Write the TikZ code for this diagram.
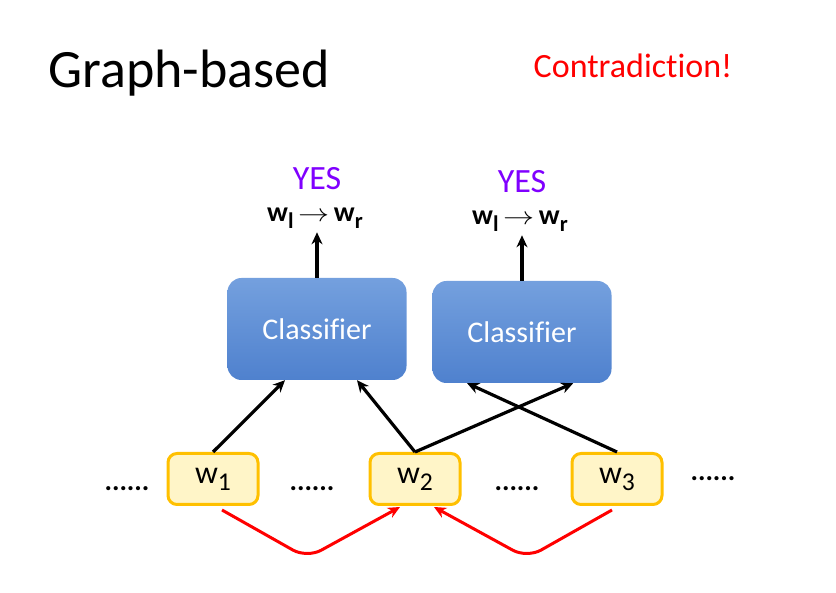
\documentclass[tikz,border=0pt]{standalone}
\usepackage{fontspec}
\setmainfont{Carlito}[Ligatures=NoCommon]
\usetikzlibrary{arrows.meta,positioning}
\definecolor{yesviolet}{RGB}{128,0,255}
\definecolor{clsTop}{RGB}{116,160,222}
\definecolor{clsBottom}{RGB}{79,129,206}
\definecolor{wordFill}{RGB}{255,245,200}
\definecolor{wordBorder}{RGB}{255,192,0}
\newcommand{\wsub}[1]{w\raisebox{-.45ex}{\scalebox{.8}{#1}}}
\newcommand{\relabel}{\wsub{l}\,\scalebox{1.25}[1]{$\rightarrow$}\,\wsub{r}}
\tikzset{
    % Colors
    yes color/.style={color=yesviolet},
    contra color/.style={color=red},
    %
    % Nodes
    title/.style={anchor=base west,font=\fontsize{54}{60}\selectfont},
    yes label/.style={yes color,anchor=base,font=\fontsize{34}{36}\selectfont},
    rel label/.style={anchor=base,font=\bfseries\fontsize{28}{30}\selectfont,inner sep=2pt},
    classifier/.style={rounded corners=14pt,top color=clsTop,bottom color=clsBottom,
        minimum width=179pt,minimum height=102pt,text=white,font=\fontsize{30}{32}\selectfont},
    word/.style={rounded corners=9pt,draw=wordBorder,line width=3pt,fill=wordFill,
        minimum width=90pt,minimum height=51pt,font=\fontsize{32}{34}\selectfont},
    dots/.style={anchor=base,font=\bfseries\fontsize{28}{30}\selectfont},
    %
    % Arrows
    arrow tip/.tip={Stealth[length=12pt,width=11pt]},
    arr/.style={-{arrow tip},line width=3.2pt},
    red arr/.style={arr,red,line width=3pt,rounded corners=16pt}
}

\begin{document}
\begin{tikzpicture}[x=1pt,y=-1pt]
    \useasboundingbox (0,0) rectangle (836,593);
    \node[title] (title) at (45,88) {Graph-based};
    \node[contra color,anchor=base,font=\fontsize{34}{36}\selectfont] (contra) at (633,78) {Contradiction!};
    %
    \node[classifier] (cls1) at (317,329) {Classifier};
    \node[classifier] (cls2) at (522,332) {Classifier};
    \node[rel label] (rel1) at (315,222) {\relabel};
    \node[rel label] (rel2) at (520,225) {\relabel};
    \node[yes label] (yes1) at (317,190) {YES};
    \node[yes label] (yes2) at (522,193) {YES};
    %
    \node[word] (w1) at (213,479) {\wsub{1}};
    \node[word] (w2) at (415,479) {\wsub{2}};
    \node[word] (w3) at (617,479) {\wsub{3}};
    \node[dots] (d1) at (127,491) {......};
    \node[dots] (d2) at (312,491) {......};
    \node[dots] (d3) at (517,491) {......};
    \node[dots] (d4) at (713,481) {......};
    %
    \draw[arr] (cls1.north) -- ([yshift=-2pt]cls1.north |- rel1.south);
    \draw[arr] (cls2.north) -- ([yshift=-2pt]cls2.north |- rel2.south);
    \draw[arr] (w1.north) -- (cls1.238);
    \draw[arr] (w2.north) -- (cls1.308);
    \draw[arr] (w2.north) -- (cls2.315);
    \draw[arr] (w3.north) -- (cls2.223);
    \draw[red arr] ([xshift=9pt,yshift=-4pt]w1.south) -- ++(85,48) -- ([xshift=-15pt,yshift=-1pt]w2.south);
    \draw[red arr] ([xshift=-5pt,yshift=-4pt]w3.south) -- ++(-85,48) -- ([xshift=19pt,yshift=-1pt]w2.south);
\end{tikzpicture}
\end{document}
